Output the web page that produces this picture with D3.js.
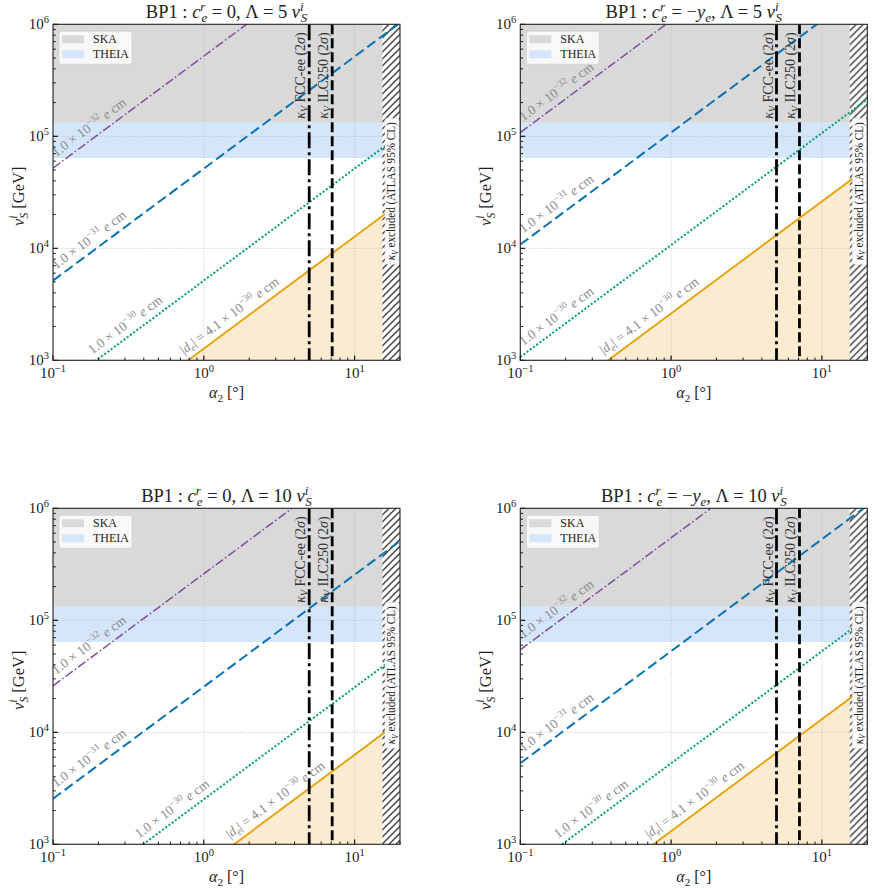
<!DOCTYPE html>
<html lang="en">
<head>
<meta charset="UTF-8">
<title>BP1 EDM contours</title>
<style>
body { margin: 0; background: #fff; }
svg text { font-family: "Liberation Serif", "DejaVu Serif", serif; fill: #222; }
</style>
</head>
<body>
<div id="viz"></div>
<script src="https://d3js.org/d3.v7.min.js"></script>
<script>
// alpha_2 [deg] at which every contour below is given
const alpha2Ends = [0.1, 20];
// v_S^i [GeV] at alpha2Ends, for |d_e| = 1e-32, 1e-31, 1e-30, 4.1e-30 e cm
const c0_L5   = [[5.2e4, 1.04e7], [5.15e3, 1.03e6], [515, 1.03e5], [127, 2.54e4]];
const cye_L5  = [[1.08e5, 2.16e7], [1.08e4, 2.16e6], [1.07e3, 2.14e5], [262, 5.24e4]];
const c0_L10  = [[2.6e4, 5.2e6], [2.55e3, 5.1e5], [252, 5.04e4], [63, 1.26e4]];
const cye_L10 = [[5.45e4, 1.09e7], [5.3e3, 1.06e6], [528, 1.06e5], [131, 2.62e4]];

const edmMant = ["1.0", "1.0", "1.0", "4.1"];
const edmExp = ["−32", "−31", "−30", "−30"];

// experimental reaches
const skaBand = [1.32e5, 1e6];
const theiaBand = [6.4e4, 1.32e5];
const fccAlpha = 5.0, ilcAlpha = 7.1;
const atlasAlpha = [15.3, 20];

const xTicks = [0.1, 1, 10];
const yTicks = [1e3, 1e4, 1e5, 1e6];

const W = 347, H = 336;
const svg = d3.select("#viz").append("svg").attr("width", 874).attr("height", 890);

const defs = svg.append("defs");
const pat = defs.append("pattern").attr("id", "hatch").attr("patternUnits", "userSpaceOnUse")
  .attr("width", 7).attr("height", 7);
pat.append("rect").attr("width", 7).attr("height", 7).attr("fill", "#fff");
pat.append("path").attr("d", "M-1,1 l2,-2 M0,7 l7,-7 M6,8 l2,-2")
  .attr("stroke", "#000").attr("stroke-width", 1.1);

// rich text: parts = [text, kind, dx]
function rich(t, parts, fs) {
  let shift = 0;
  parts.forEach(p => {
    const s = p[0], k = p[1] || "", dx = p[2] || 0;
    const ts = t.append("tspan").text(s);
    let target = 0, size = fs;
    if (k.includes("sup")) { target = -0.42 * fs; size = 0.7 * fs; }
    if (k.includes("sub")) { target = 0.22 * fs; size = 0.7 * fs; }
    ts.attr("font-size", size);
    if (target - shift !== 0) ts.attr("dy", target - shift);
    if (dx) ts.attr("dx", dx);
    if (k.includes("i")) ts.attr("font-style", "italic");
    shift = target;
  });
  return t;
}

function pow10Parts(v) {
  const e = Math.round(Math.log10(v));
  return [["10"], [(e < 0 ? "−" : "") + Math.abs(e), "sup"]];
}

const panels = [
  { data: c0_L5, left: 53, top: 24.3, ce: [[" = 0, Λ = 5 "]] },
  { data: cye_L5, left: 520.3, top: 24.3, ce: [[" = −"], ["y", "i"], ["e", "sub i"], [", Λ = 5 "]] },
  { data: c0_L10, left: 53, top: 508.3, ce: [[" = 0, Λ = 10 "]] },
  { data: cye_L10, left: 520.3, top: 508.3, ce: [[" = −"], ["y", "i"], ["e", "sub i"], [", Λ = 10 "]] }
];

const styles = [
  { color: "#7f4c9e", width: 1.5, dash: "9,2.5,1.6,2.5" },
  { color: "#0a72b5", width: 2, dash: "10,4.5" },
  { color: "#009e73", width: 2, dash: "2,2" },
  { color: "#e69f00", width: 1.8, dash: null }
];

panels.forEach((p, pi) => {
  const g = svg.append("g").attr("transform", `translate(${p.left},${p.top})`);
  const x = d3.scaleLog().domain([0.1, 20]).range([0, W]);
  const y = d3.scaleLog().domain([1e3, 1e6]).range([H, 0]);

  const cid = "clip" + pi;
  defs.append("clipPath").attr("id", cid).append("rect").attr("width", W).attr("height", H);
  const plot = g.append("g").attr("clip-path", `url(#${cid})`);

  // bands
  plot.append("rect").attr("x", 0).attr("width", W)
    .attr("y", y(skaBand[1])).attr("height", y(skaBand[0]) - y(skaBand[1])).attr("fill", "#d9d9d9");
  plot.append("rect").attr("x", 0).attr("width", W)
    .attr("y", y(theiaBand[1])).attr("height", y(theiaBand[0]) - y(theiaBand[1])).attr("fill", "#d5e6fb");

  // excluded region under the current |d_e| bound
  const bound = alpha2Ends.map((a, i) => [a, p.data[3][i]]);
  plot.append("path").datum(bound)
    .attr("d", d3.area().x(d => x(d[0])).y0(H).y1(d => y(d[1])))
    .attr("fill", "#fbebd1");

  // grid
  plot.selectAll(".gx").data(xTicks).join("line")
    .attr("x1", d => x(d)).attr("x2", d => x(d)).attr("y1", 0).attr("y2", H)
    .attr("stroke", "#b8b8b8").attr("stroke-width", 0.8).attr("stroke-dasharray", "1,1.6");
  plot.selectAll(".gy").data(yTicks).join("line")
    .attr("y1", d => y(d)).attr("y2", d => y(d)).attr("x1", 0).attr("x2", W)
    .attr("stroke", "#b8b8b8").attr("stroke-width", 0.8).attr("stroke-dasharray", "1,1.6");

  // ATLAS hatched region
  plot.append("rect").attr("x", x(atlasAlpha[0])).attr("width", x(atlasAlpha[1]) - x(atlasAlpha[0]))
    .attr("y", 0).attr("height", H).attr("fill", "url(#hatch)");

  // contours
  const line = d3.line().x(d => x(d[0])).y(d => y(d[1]));
  p.data.forEach((vals, i) => {
    const pts = alpha2Ends.map((a, j) => [a, vals[j]]);
    const st = styles[i];
    plot.append("path").datum(pts).attr("d", line).attr("fill", "none")
      .attr("stroke", st.color).attr("stroke-width", st.width)
      .attr("stroke-dasharray", st.dash);
  });

  // vertical kappa_V lines
  [[fccAlpha, "16,4,3,4"], [ilcAlpha, "10,4"]].forEach(([a, dash]) => {
    plot.append("line").attr("x1", x(a)).attr("x2", x(a)).attr("y1", 0).attr("y2", H)
      .attr("stroke", "#000").attr("stroke-width", 2.8).attr("stroke-dasharray", dash);
  });

  // contour labels
  p.data.forEach((vals, i) => {
    const x0 = x(alpha2Ends[0]), y0 = y(vals[0]);
    const x1 = x(alpha2Ends[1]), y1 = y(vals[1]);
    const slope = (y1 - y0) / (x1 - x0);
    const ang = Math.atan(slope);
    // where the line enters the plot
    let sx = x0, sy = y0;
    if (y0 > H) { sx = x0 + (H - y0) / slope; sy = H; }
    const off = 7;
    let tx = sx + off * Math.sin(ang), ty = sy - off * Math.cos(ang);
    if (tx < 3) { const d = 3 - tx; tx += d; ty += d * slope; }
    const t = g.append("text").attr("transform", `translate(${tx},${ty}) rotate(${ang * 180 / Math.PI})`)
      .style("fill", "#8a8a8a");
    const parts = [];
    if (i === 3) parts.push(["|"], ["d", "i"], ["e", "sub i"], ["| = "]);
    parts.push([edmMant[i] + " × 10"], [edmExp[i], "sup"], [" "], ["e", "i"], [" cm"]);
    rich(t, parts, 13.5);
  });

  // kappa_V labels
  [[fccAlpha, "FCC-ee"], [ilcAlpha, "ILC250"]].forEach(([a, name]) => {
    const t = g.append("text").attr("transform", `translate(${x(a) - 4},8) rotate(-90)`)
      .attr("text-anchor", "end").style("fill", "#333");
    rich(t, [["κ", "i"], ["V", "sub i"], [" " + name + " (2"], ["σ", "i"], [")"]], 14);
  });

  // ATLAS label in a white box
  const ax = (x(atlasAlpha[0]) + W) / 2;
  const afs = 12, alen = 138;
  const ag = g.append("g").attr("transform", `translate(${ax + 4},${167}) rotate(-90)`);
  ag.append("rect").attr("x", -alen / 2 - 4).attr("y", -afs * 0.85).attr("width", alen + 8)
    .attr("height", afs * 1.2).attr("rx", 2)
    .attr("fill", "#fff").attr("fill-opacity", 0.92).attr("stroke", "#ddd").attr("stroke-width", 0.6);
  const at = ag.append("text").attr("x", -alen / 2).attr("textLength", alen)
    .attr("lengthAdjust", "spacingAndGlyphs").style("fill", "#222");
  rich(at, [["κ", "i"], ["V", "sub i"], [" excluded (ATLAS 95% CL)"]], afs);

  // legend
  const lg = g.append("g").attr("transform", "translate(6,7)");
  lg.append("rect").attr("width", 73).attr("height", 33).attr("rx", 2.5)
    .attr("fill", "#fff").attr("fill-opacity", 0.8).attr("stroke", "#cfcfcf").attr("stroke-width", 0.8);
  [["SKA", "#d9d9d9"], ["THEIA", "#d5e6fb"]].forEach(([name, col], i) => {
    lg.append("rect").attr("x", 3).attr("y", 4 + i * 15).attr("width", 22).attr("height", 8).attr("fill", col);
    lg.append("text").attr("x", 34).attr("y", 12 + i * 15).attr("font-size", 12).text(name);
  });

  // axes frame and ticks (pointing inwards)
  const minorX = [];
  [0.1, 1, 10].forEach(d => { for (let k = 2; k <= 9; k++) if (d * k <= 20) minorX.push(d * k); });
  const minorY = [];
  [1e3, 1e4, 1e5].forEach(d => { for (let k = 2; k <= 9; k++) minorY.push(d * k); });
  g.selectAll(".tx").data(xTicks).join("line").attr("x1", d => x(d)).attr("x2", d => x(d))
    .attr("y1", H).attr("y2", H - 4.9).attr("stroke", "#000").attr("stroke-width", 1.1);
  g.selectAll(".mx").data(minorX).join("line").attr("x1", d => x(d)).attr("x2", d => x(d))
    .attr("y1", H).attr("y2", H - 2.8).attr("stroke", "#000").attr("stroke-width", 0.9);
  g.selectAll(".ty").data(yTicks).join("line").attr("y1", d => y(d)).attr("y2", d => y(d))
    .attr("x1", 0).attr("x2", 4.9).attr("stroke", "#000").attr("stroke-width", 1.1);
  g.selectAll(".my").data(minorY).join("line").attr("y1", d => y(d)).attr("y2", d => y(d))
    .attr("x1", 0).attr("x2", 2.8).attr("stroke", "#000").attr("stroke-width", 0.9);
  g.append("rect").attr("width", W).attr("height", H).attr("fill", "none")
    .attr("stroke", "#222").attr("stroke-width", 1.1);

  xTicks.forEach(d => {
    const t = g.append("text").attr("x", x(d)).attr("y", H + 18).attr("text-anchor", "middle");
    rich(t, pow10Parts(d), 15);
  });
  yTicks.forEach(d => {
    const t = g.append("text").attr("x", -4).attr("y", y(d) + 5).attr("text-anchor", "end");
    rich(t, pow10Parts(d), 15);
  });

  // axis titles
  rich(g.append("text").attr("x", W / 2).attr("y", H + 38).attr("text-anchor", "middle"),
    [["α", "i"], ["2", "sub"], [" [°]"]], 16);
  rich(g.append("text").attr("transform", `translate(-29,${H / 2 + 4}) rotate(-90)`).attr("text-anchor", "middle"),
    [["v", "i"], ["i", "sup i"], ["S", "sub i", -3], [" [GeV]"]], 16.5);

  // panel title
  rich(g.append("text").attr("x", W / 2).attr("y", -6).attr("text-anchor", "middle"),
    [["BP1 :  "], ["c", "i"], ["r", "sup i"], ["e", "sub i", -3.5]].concat(p.ce,
      [["v", "i"], ["i", "sup i"], ["S", "sub i", -3]]), 18.5);
});
</script>
</body>
</html>
